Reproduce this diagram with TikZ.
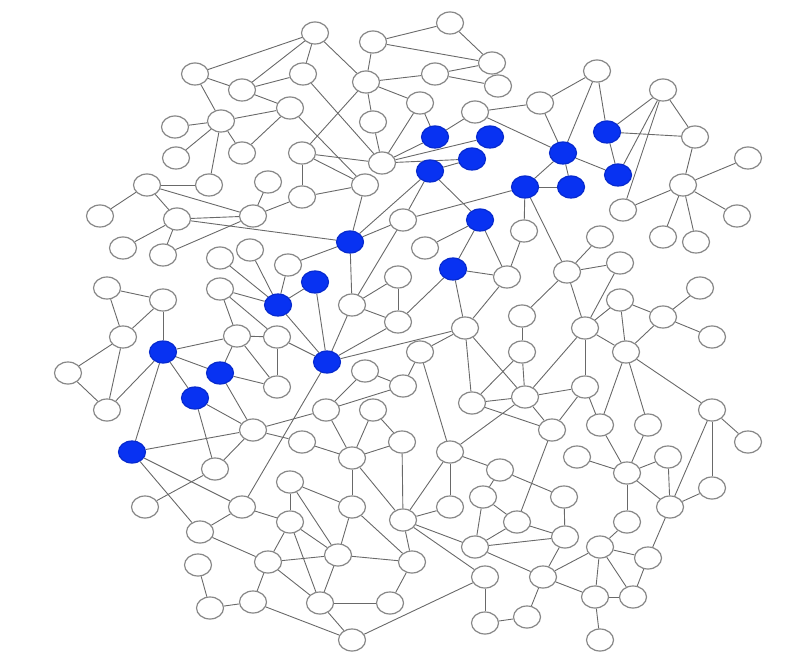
\documentclass[tikz,border=0pt]{standalone}
\usetikzlibrary{shapes.geometric,backgrounds}
\definecolor{nodeblue}{RGB}{8,50,242}
\definecolor{edgegray}{RGB}{105,105,105}
\definecolor{rimgray}{RGB}{135,135,135}
\tikzset{
  vtx/.style={ellipse,draw=rimgray,line width=1.2pt,fill=white,minimum width=27pt,minimum height=22pt,inner sep=0pt},
  bvtx/.style={vtx,draw=nodeblue!85!black,fill=nodeblue},
  edge/.style={draw=edgegray,line width=0.9pt}
}
\begin{document}
\begin{tikzpicture}[x=1pt,y=-1pt]
\useasboundingbox (0,0) rectangle (787,652);
% top-left
\foreach \n/\x/\y in {a1/315/33,a2/195/74,a3/242/90,a4/303/74,a5/290/108,a6/221/121,a7/175/127,a8/176/158,a9/242/153,a10/302/153,a11/302/197,a12/147/185,a13/209/185,a14/268/182,a15/100/216,a16/177/219,a17/253/216,a18/123/248,a19/163/255,
 b1/373/42,b2/450/23,b3/492/63,b4/498/86,b5/435/74,b6/366/82,b7/373/122,b8/420/103,b9/475/112,b10/540/103,b11/382/163,b12/365/185,b13/403/220,b14/524/231,
 c1/597/71,c2/663/90,c3/695/137,c4/683/185,c5/748/158,c6/737/216,c7/663/237,c8/696/242,c9/623/210,c10/600/237,c11/567/272,c12/620/263,
 d1/220/258,d2/250/250,d3/288/265,d4/220/289,d5/107/288,d6/163/300,d7/123/337,d8/68/373,d9/107/410,d10/237/336,d11/277/337,d12/277/387,d13/253/430,d14/215/469,d15/145/507,
 e1/425/248,e2/507/277,e3/352/305,e4/398/277,e5/398/322,e6/465/328,e7/420/352,e8/365/371,e9/403/386,e10/326/410,e11/373/410,e12/302/442,e13/352/458,e14/402/442,
 f1/522/316,f2/522/352,f3/585/328,f4/620/300,f5/663/317,f6/700/288,f7/712/337,f8/626/352,f9/525/397,f10/472/403,f11/585/387,f12/552/430,f13/600/425,f14/648/425,f15/712/410,f16/748/442,
 g1/577/457,g2/627/473,g3/668/457,g4/712/488,g5/670/507,g6/627/522,g7/600/547,g8/648/558,g9/595/597,g10/633/597,g11/600/640,g12/564/497,g13/565/537,
 h1/450/452,h2/500/470,h3/483/497,h4/450/507,h5/403/520,h6/517/522,h7/475/547,h8/412/562,h9/543/577,h10/485/577,h11/390/603,h12/485/623,h13/527/617,h14/352/640,
 k1/290/482,k2/242/507,k3/200/532,k4/290/522,k5/352/507,k6/268/562,k7/338/555,k8/198/565,k9/253/602,k10/320/603,k11/210/608}
  \node[vtx] (\n) at (\x,\y) {};
\foreach \n/\x/\y in {q1/435/137,q2/490/137,q3/472/159,q4/430/171,q5/525/187,q6/480/220,q7/563/153,q8/571/187,q9/607/132,q10/618/175,q11/350/242,q12/453/269,q13/315/282,q14/278/305,q15/327/362,q16/163/352,q17/220/373,q18/195/398,q19/132/452}
  \node[bvtx] (\n) at (\x,\y) {};
\begin{scope}[on background layer]
\foreach \u/\v in {a2/a1,a2/a3,a3/a1,a3/a4,a3/a5,a4/a1,a2/a6,a6/a7,a6/a5,a6/a8,a6/a13,a6/a9,a5/a9,a4/b11,a5/b12,b6/a10,a1/b6,a10/b11,a10/b12,a10/a11,a11/b12,a11/a17,a14/a17,a12/a13,a12/a15,a12/a16,a12/a17,a16/a17,a16/a18,a16/a19,a19/a17,a16/q11,
 b1/b2,b1/b3,b1/b6,b2/b3,b3/b5,b4/b5,b5/b6,b6/b8,b6/b7,b7/b11,b8/b11,b8/q1,b11/q1,b11/q2,b11/q3,q4/q3,q1/b9,b9/b10,b9/q7,q4/q6,q4/b13,q4/q11,b13/q5,b12/q11,b13/q11,b13/e3,
 q5/q7,q5/q8,q5/b14,q5/c11,q7/b10,q7/c1,q7/q8,q7/q10,b10/c1,c1/q9,q9/c2,q9/c3,q9/q10,q10/c2,c2/c3,c2/c9,c3/c4,c4/c5,c4/c6,c4/c7,c4/c8,c4/c9,c10/c11,c12/c11,c11/f1,c11/f3,c12/f3,
 q6/e1,q6/q12,q6/e2,b14/e2,
 d1/q14,d2/q14,d3/q14,q14/q13,d4/q14,d4/d10,d4/d11,q14/q15,d10/d11,d10/q16,d10/q17,d10/d12,d11/d12,q17/d12,q17/d13,q16/q17,q16/q18,q16/d9,q16/d6,q16/q19,d5/d6,d5/d7,d6/d7,d7/d8,d7/d9,d8/d9,q18/d13,q18/d14,d13/e10,d11/q15,q11/d3,
 q11/e3,e3/e4,e3/e5,e3/q15,e4/e5,e5/q12,e5/q15,q12/e2,q12/e6,e2/e6,e6/q15,e6/e7,e6/f10,e6/f9,q15/q13,q15/k2,
 e7/e9,e7/h1,e9/e8,e9/e10,e8/e10,e10/e13,e11/e13,e11/e14,e14/e13,e12/d13,e12/e13,e14/h5,e13/k5,e13/h5,
 f1/f2,f2/f9,f3/f4,f3/f8,f3/f11,f3/f9,f4/f8,f4/f5,f5/f6,f5/f7,f5/f8,f9/f11,f9/f12,f9/f10,f10/f2,f10/f12,f9/h1,f11/f12,f11/f13,f8/f13,f8/f14,f8/f15,f15/f16,f15/g4,f15/g5,
 f13/g2,f14/g2,g1/g2,g2/g3,g2/g5,g2/g6,g3/g5,g4/g5,g5/g8,g6/g7,g7/g8,g7/g9,g7/g10,g8/g10,g9/g10,g9/g11,g7/h9,h9/g9,g12/g13,
 h1/h2,h1/h4,h1/h5,h2/h3,h2/g12,h3/h6,h3/h7,f12/h6,g13/h6,g13/h7,h7/h6,h5/h4,h5/h7,h5/h10,h5/h8,h7/h9,g13/h9,h9/h13,h10/h12,h12/h13,h14/h10,k5/h8,k7/h8,h8/h11,k10/h11,
 q19/d13,q19/k2,q19/k3,d13/d14,d14/d15,k2/k4,k2/k3,k3/k6,k1/k4,k1/k5,k1/k7,k4/k6,k4/k7,k4/k10,k5/k7,k6/k7,k6/k9,k6/k10,k7/k10,k10/h14,k9/k11,k11/k8,k9/h14}
  \draw[edge] (\u) -- (\v);
\end{scope}
\end{tikzpicture}
\end{document}
